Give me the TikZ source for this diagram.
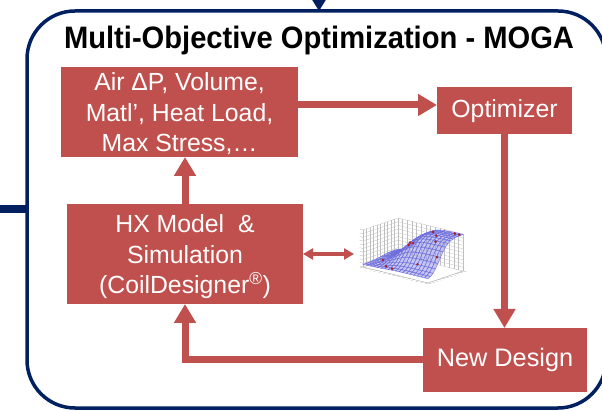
\documentclass[tikz,border=0pt]{standalone}
\usepackage{fontspec}
\setmainfont{Liberation Sans}
\newfontfamily\titlefont[FakeStretch=0.94]{Liberation Sans}
\usetikzlibrary{arrows.meta}

\definecolor{boxred}{RGB}{192,80,77}
\definecolor{navy}{RGB}{0,32,96}
\definecolor{meshblue}{RGB}{80,80,215}
\definecolor{dotred}{RGB}{170,30,40}

\tikzset{
  stepbox/.style={fill=boxred, draw=none, inner sep=0pt, outer sep=0pt},
  boxtext/.style={text=white, align=center, inner sep=0pt,
    font=\fontsize{24.8}{30.5}\selectfont},
  flow/.style={draw=boxred, line width=7pt,
    -{Triangle[width=21pt,length=19pt]}},
  dflow/.style={draw=boxred, line width=4pt,
    {Triangle[width=11pt,length=10pt]}-{Triangle[width=11pt,length=10pt]}},
  wallgrid/.style={draw=gray!50, line width=0.3pt},
  surf/.style={fill=meshblue!55, fill opacity=0.6, draw=meshblue!85, line width=0.35pt},
}

\begin{document}
\begin{tikzpicture}[x=1pt, y=-1pt,
  declare function={
    sg(\t)=1/(1+exp(-\t));
    zf(\u,\v)=0.07+0.86*sg(10*(\u-0.33))*sg(9*(\v-0.32))+0.06*sg(12*(\v-0.55));}]
\useasboundingbox (0,0) rectangle (602,411);

% outer frame with its incoming links
\draw[navy, line width=3.5pt, rounded corners=48pt] (27,11) rectangle (606,408);
\coordinate (inL) at (0,209);
\coordinate (frameL) at (27,209);
\draw[navy, line width=8pt] (inL) -- (frameL);
\coordinate (topIn) at (319,-4);
\coordinate (topOut) at (319,11);
\draw[navy, line width=2pt, -{Triangle[width=13pt,length=11pt]}] (topIn) -- (topOut);

% title
\node[font=\titlefont\bfseries\fontsize{31}{31}\selectfont, anchor=base] (title) at (319,49)
  {Multi-Objective Optimization - MOGA};

% blocks
\node[stepbox, minimum width=237pt, minimum height=90pt] (obj) at (179.5,112) {};
\node[boxtext] (objtext) at ([yshift=-2pt]obj.center)
  {Air ΔP, Volume,\\Matl’, Heat Load,\\Max Stress,…};
\node[stepbox, minimum width=135pt, minimum height=47pt] (opt) at (504.5,111) {};
\node[boxtext] (opttext) at (opt.center) {Optimizer};
\node[stepbox, minimum width=236pt, minimum height=100pt] (hx) at (185,254) {};
\node[boxtext] (hxtext) at ([yshift=-3pt]hx.center)
  {HX Model\ \ \&\\Simulation\\(CoilDesigner\textsuperscript{®})};
\node[stepbox, minimum width=164pt, minimum height=64pt] (nd) at (505,360) {};
\node[boxtext, font=\fontsize{25.3}{30}\selectfont] (ndtext) at (nd.center) {New Design};

% flow arrows
\draw[flow] (hx.north) -- (hx.north |- obj.south);
\draw[flow] ([yshift=7pt]obj.east) -- ([yshift=6pt]opt.west);
\draw[flow] (opt.south) -- (opt.south |- nd.north);
\draw[flow] ([yshift=1pt]nd.west) -| (hx.south);

% response surface plot
\coordinate (plotL) at (354,254);
\draw[dflow] (hx.east) -- (plotL);

\begin{scope}[shift={(363pt,-267pt)}, x={(65pt,-16pt)}, y={(35pt,12pt)}, z={(0pt,37pt)}]
  % left wall (u = 0)
  \foreach \k in {0,0.1,...,1.01} {
    \draw[wallgrid] (0,\k,0) -- (0,\k,1);
    \draw[wallgrid] (0,0,\k) -- (0,1,\k);
    \draw[draw=gray!60, line width=0.3pt] (0,0,\k) -- (-0.05,0,\k);
  }
  % back wall (v = 1)
  \foreach \k in {0,...,14} {
    \draw[wallgrid] (\k/14,1,0) -- (\k/14,1,1);
    \draw[draw=gray!60, line width=0.3pt] (\k/14,0,0) -- (\k/14,-0.08,0);
  }
  \foreach \k in {0,0.1,...,1.01} {
    \draw[wallgrid] (0,1,\k) -- (1,1,\k);
  }
  \foreach \k in {0,...,10} {
    \draw[draw=gray!60, line width=0.3pt] (1,\k/10,0) -- (1.05,\k/10,0);
  }
  \draw[draw=gray!70, line width=0.4pt] (0,0,0) -- (1,0,0) -- (1,1,0);
  % surface, back rows first
  \foreach \j in {13,...,0} {
    \foreach \i in {0,...,17} {
      \pgfmathsetmacro{\ua}{\i/18}
      \pgfmathsetmacro{\ub}{(\i+1)/18}
      \pgfmathsetmacro{\va}{\j/14}
      \pgfmathsetmacro{\vb}{(\j+1)/14}
      \pgfmathsetmacro{\wa}{zf(\ua,\va)}
      \pgfmathsetmacro{\wb}{zf(\ub,\va)}
      \pgfmathsetmacro{\wc}{zf(\ub,\vb)}
      \pgfmathsetmacro{\wd}{zf(\ua,\vb)}
      \filldraw[surf] (\ua,\va,\wa) -- (\ub,\va,\wb) -- (\ub,\vb,\wc) -- (\ua,\vb,\wd) -- cycle;
    }
  }
  % sample points
  \foreach \pu/\pv in {0.12/0.35, 0.3/0.1, 0.42/0.05, 0.5/0.5, 0.72/0.22, 0.82/0.55,
                       0.9/0.95, 0.97/0.95, 0.62/0.85, 0.3/0.75, 0.95/0.35, 0.4/0.6, 0.75/0.7} {
    \pgfmathsetmacro{\pw}{zf(\pu,\pv)}
    \fill[dotred] (\pu,\pv,\pw) circle[radius=1.4pt];
  }
\end{scope}
\end{tikzpicture}
\end{document}
